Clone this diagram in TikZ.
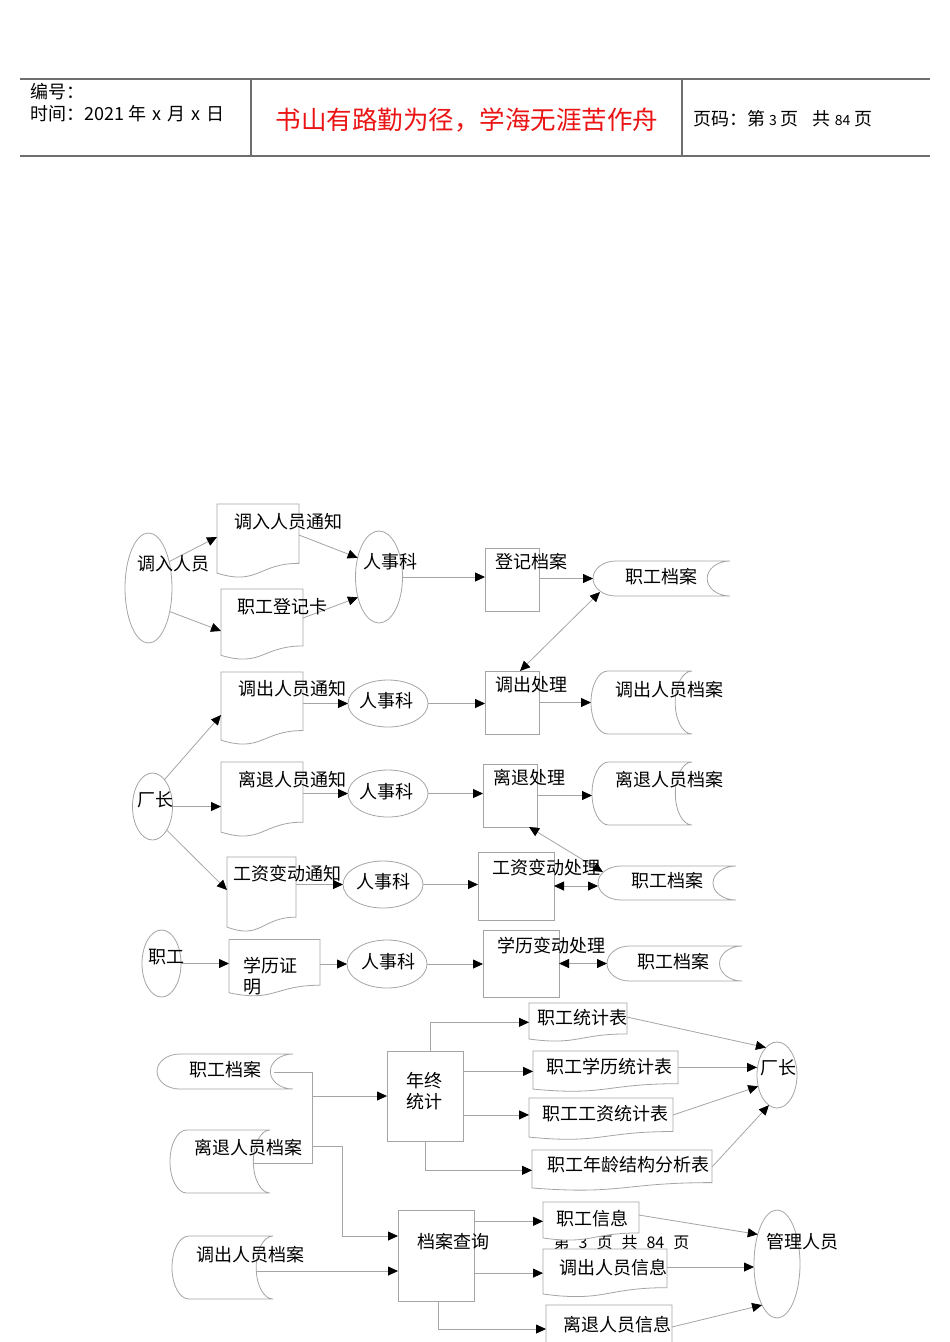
\documentclass[tikz,border=0pt]{standalone}
\usepackage{fontspec}
\setmainfont{Noto Sans CJK SC}
\usetikzlibrary{arrows.meta,shapes.geometric,calc}
\definecolor{lc}{RGB}{165,165,165}
\definecolor{hc}{RGB}{110,110,110}
\definecolor{tred}{RGB}{235,20,20}
\newcommand\dfont{\fontsize{18pt}{21pt}\selectfont}
\newcommand\docsh[1]{%
  \draw[shp] let \p1=(#1.north west), \p2=(#1.south east), \p3=(#1.north) in
  (\x1,\y1) -- (\x2,\y1) -- (\x2,{\y1+0.802*(\y2-\y1)})
  .. controls (\x3,{\y1+0.802*(\y2-\y1)}) and (\x3,{\y1+1.107*(\y2-\y1)}) .. (\x1,{\y1+0.934*(\y2-\y1)}) -- cycle;}
\newcommand\storesh[1]{%
  \draw[shp] let \p1=(#1.north west), \p2=(#1.south east), \n1={(\x2-\x1)/6}, \n2={(\y1-\y2)/2} in
  ({\x1+\n1},\y1) -- (\x2,\y1) arc[start angle=90,end angle=270,x radius=\n1,y radius=\n2]
  -- ({\x1+\n1},\y2) arc[start angle=270,end angle=90,x radius=\n1,y radius=\n2] -- cycle;}
\begin{document}
\begin{tikzpicture}[x=1pt,y=-1pt,
  shp/.style={draw=lc,line width=0.8pt,fill=white},
  ph/.style={inner sep=0pt,outer sep=0pt,rectangle},
  box/.style={draw=lc,line width=0.8pt,fill=white,inner sep=0pt,outer sep=0pt,rectangle},
  ell/.style={ellipse,draw=lc,line width=0.8pt,fill=white,inner sep=0pt,outer sep=0pt},
  txt/.style={inner sep=0pt,font=\dfont},
  htxt/.style={inner sep=0pt,font=\fontsize{18pt}{20pt}\selectfont},
  arr/.style={draw=lc,line width=0.8pt,-{Triangle[length=10pt,width=9pt,color=black]}},
  darr/.style={draw=lc,line width=0.8pt,{Triangle[length=10pt,width=9pt,color=black]}-{Triangle[length=10pt,width=9pt,color=black]}},
  ln/.style={draw=lc,line width=0.8pt}]
\useasboundingbox (0,0) rectangle (950,1342);
\fill[white] (0,0) rectangle (950,1342);
% header
\draw[hc,line width=1.3pt] (20,79) -- (930,79) (20,156) -- (930,156) (251,79) -- (251,156) (682,79) -- (682,156);
\node[htxt,anchor=west] (h1) at (30,92) {编号：};
\node[htxt,anchor=west] (h2) at (30,114) {时间：2021\hspace{4pt}年\hspace{6pt}x\hspace{6pt}月\hspace{6pt}x\hspace{6pt}日};
\node[inner sep=0pt,font=\fontsize{25.5pt}{28pt}\selectfont,text=tred] (h3) at (467,120) {书山有路勤为径，学海无涯苦作舟};
\node[htxt,anchor=west] (h4) at (693,119) {页码：第\hspace{4pt}{\fontsize{14pt}{15pt}\selectfont 3}\hspace{4pt}页\hspace{14pt}共\hspace{4pt}{\fontsize{14pt}{15pt}\selectfont 84}\hspace{4pt}页};
% footer text (partly covered)
\node[inner sep=0pt,font=\fontsize{16pt}{18pt}\selectfont] (pg) at (621.5,1242) {第\hspace{9pt}3\hspace{9pt}页\hspace{9pt}共\hspace{9pt}84\hspace{9pt}页};
% row 1
\node[ell,minimum width=47pt,minimum height=110pt] (E1) at (148.5,588) {};
\node[ph,minimum width=82pt,minimum height=74pt] (D1) at (258,541) {};
\node[ph,minimum width=82pt,minimum height=71pt] (D2) at (262,624.5) {};
\node[ell,minimum width=47pt,minimum height=92pt] (E2) at (379,577) {};
\node[box,minimum width=54pt,minimum height=63pt] (B1) at (512,579.5) {};
\node[ph,minimum width=137pt,minimum height=35pt] (S1) at (661.5,578.5) {};
% row 2
\node[ph,minimum width=82pt,minimum height=73pt] (D3) at (262,708.5) {};
\node[ell,minimum width=80pt,minimum height=47pt] (E3) at (388,703.5) {};
\node[box,minimum width=54pt,minimum height=63pt] (B2) at (512,702.5) {};
\node[ph,minimum width=101pt,minimum height=63pt] (S2) at (641.5,702.5) {};
% row 3
\node[ph,minimum width=82pt,minimum height=75pt] (D4) at (262,799.5) {};
\node[ell,minimum width=80pt,minimum height=47pt] (E4) at (388,793.5) {};
\node[box,minimum width=54pt,minimum height=63pt] (B3) at (510,795.5) {};
\node[ph,minimum width=100pt,minimum height=63pt] (S3) at (642,793.5) {};
\node[ell,minimum width=40pt,minimum height=67pt] (CZ) at (152.5,806.5) {};
% row 4
\node[ph,minimum width=69pt,minimum height=75pt] (D5) at (261.5,894.5) {};
\node[ell,minimum width=80pt,minimum height=47pt] (E5) at (383,884.5) {};
\node[box,minimum width=76pt,minimum height=68pt] (B4) at (516,886) {};
\node[ph,minimum width=138pt,minimum height=34pt] (S4) at (667,883) {};
% row 5
\node[ell,minimum width=39pt,minimum height=67pt] (E6) at (161.5,963.5) {};
\node[ph,minimum width=91pt,minimum height=57pt] (D6) at (274.5,968) {};
\node[ell,minimum width=80pt,minimum height=48pt] (E7) at (387,964) {};
\node[box,minimum width=76pt,minimum height=67pt] (B5) at (521,963.5) {};
\node[ph,minimum width=135pt,minimum height=35pt] (S5) at (674.5,963.5) {};
% row 6
\node[ph,minimum width=136pt,minimum height=35pt] (S6) at (225,1071.5) {};
\node[ph,minimum width=100pt,minimum height=63pt] (S7) at (220,1161.5) {};
\node[box,minimum width=76pt,minimum height=90pt] (B6) at (425,1096) {};
\node[ph,minimum width=98pt,minimum height=38.5pt] (T1) at (578,1022.3) {};
\node[ph,minimum width=145pt,minimum height=40.7pt] (T2) at (605.5,1071.4) {};
\node[ph,minimum width=144pt,minimum height=41.8pt] (T3) at (601,1118.9) {};
\node[ph,minimum width=180pt,minimum height=40.7pt] (T4) at (622,1170.3) {};
\node[ell,minimum width=40pt,minimum height=66pt] (E8) at (777,1075) {};
% row 7
\node[ph,minimum width=101pt,minimum height=63pt] (S8) at (222.5,1267.5) {};
\node[box,minimum width=76pt,minimum height=91pt] (B7) at (436,1255.5) {};
\node[ph,minimum width=96pt,minimum height=38.5pt] (U1) at (591,1221.3) {};
\node[ph,minimum width=124pt,minimum height=48.2pt] (U2) at (605,1273.1) {};
\node[ph,minimum width=126pt,minimum height=48pt] (U3) at (609,1329) {};
\node[ell,minimum width=46pt,minimum height=108pt] (E9) at (777,1264) {};
% custom outlines
\docsh{D1}\docsh{D2}\docsh{D3}\docsh{D4}\docsh{D5}\docsh{D6}
\docsh{T1}\docsh{T2}\docsh{T3}\docsh{T4}\docsh{U1}\docsh{U2}\docsh{U3}
\storesh{S1}\storesh{S2}\storesh{S3}\storesh{S4}\storesh{S5}\storesh{S6}\storesh{S7}\storesh{S8}
% connectors row 1
\draw[arr] (E1.52) -- ($(D1.north west)+(0,33)$);
\draw[arr] (E1.-48) -- ($(D2.north west)+(0,42)$);
\draw[arr] ($(D1.north east)+(0,31)$) -- (E2.138);
\draw[arr] ($(D2.north east)+(0,29)$) -- (E2.224);
\draw[arr] (E2.east) -- (E2.east -| B1.west);
\draw[arr] (B1.east |- S1.west) -- (S1.west);
\draw[darr] ($(S1.south west)+(7,-4)$) -- ($(B2.north)+(8,0)$);
% row 2
\draw[arr] (E3.west -| D3.east) -- (E3.west);
\draw[arr] (E3.east) -- (E3.east -| B2.west);
\draw[arr] (B2.east) -- (S2.west);
% row 3
\draw[arr] (E4.west -| D4.east) -- (E4.west);
\draw[arr] (E4.east) -- (E4.east -| B3.west);
\draw[arr] (B3.east) -- (B3.east -| S3.west);
\draw[darr] ($(B3.south)+(19,0)$) -- ($(S4.north west)+(5,6)$);
\draw[arr] (CZ.66) -- ($(D3.north west)+(0,43)$);
\draw[arr] (CZ.east) -- (CZ.east -| D4.west);
\draw[arr] (CZ.-59) -- ($(D5.north west)+(0,33)$);
% row 4
\draw[arr] (E5.west -| D5.east) -- (E5.west);
\draw[arr] (E5.east) -- (E5.east -| B4.west);
\draw[darr] (B4.east) -- (B4.east -| S4.west);
% row 5
\draw[arr] (E6.east) -- (E6.east -| D6.west);
\draw[arr] (E7.west -| D6.east) -- (E7.west);
\draw[arr] (E7.east) -- (E7.east -| B5.west);
\draw[darr] (B5.east) -- (S5.west);
% row 6
\coordinate (j1) at (312,1096);
\coordinate (j2) at (312,1146);
\coordinate (j3) at (312,1163);
\coordinate (k1) at (342,1146);
\draw[ln] ($(S6.east)+(-19,0.5)$) -| (j3) -- ($(S7.east)+(-16,1.5)$);
\draw[arr] (j1) -- (j1 -| B6.west);
\draw[arr] (j2) -- (k1) |- ($(B7.north west)+(0,26)$);
\draw[arr] ($(B6.north)+(5,0)$) |- (T1.west);
\draw[arr] (B6.east |- T2.west) -- (T2.west);
\coordinate (T3w) at ($(T3.west)+(0,-4)$);
\draw[arr] (B6.east |- T3w) -- (T3w);
\draw[arr] (B6.south) |- (T4.west);
\coordinate (T1e) at ($(T1.north east)+(0,14)$);
\coordinate (T2e) at ($(T2.east)+(0,-4)$);
\coordinate (T3e) at ($(T3.north east)+(0,17)$);
\coordinate (T4e) at ($(T4.north east)+(0,17)$);
\draw[arr] (T1e) -- (E8.112);
\draw[arr] (T2e) -- (E8.west |- T2e);
\draw[arr] (T3e) -- (E8.211);
\draw[arr] (T4e) -- (E8.255);
% row 7
\coordinate (S8i) at ($(S8.east)+(-17,3.5)$);
\draw[arr] (S8i) -- (S8i -| B7.west);
\draw[arr] (B7.east |- U1.west) -- (U1.west);
\draw[arr] (B7.east |- U2.west) -- (U2.west);
\draw[arr] ($(B7.south)+(2,0)$) |- (U3.west);
\coordinate (U1e) at ($(U1.north east)+(0,13)$);
\coordinate (U2e) at ($(U2.north east)+(0,18)$);
\coordinate (U3e) at ($(U3.north east)+(0,22)$);
\draw[arr] (U1e) -- (E9.123);
\draw[arr] (U2e) -- (U2e -| E9.west);
\draw[arr] (U3e) -- (E9.250);
% texts
\node[txt] (t1) at (173,564) {调入人员};
\node[txt] (t2) at (288,522) {调入人员通知};
\node[txt] (t3) at (282,607) {职工登记卡};
\node[txt] (t4) at (390,562) {人事科};
\node[txt] (t5) at (531,562) {登记档案};
\node[txt] (t6) at (661,577) {职工档案};
\node[txt] (t7) at (292,689) {调出人员通知};
\node[txt] (t8) at (386,701) {人事科};
\node[txt] (t9) at (531,685) {调出处理};
\node[txt] (t10) at (669,690) {调出人员档案};
\node[txt] (t11) at (292,780) {离退人员通知};
\node[txt] (t12) at (386,792) {人事科};
\node[txt] (t13) at (529,778) {离退处理};
\node[txt] (t14) at (669,780) {离退人员档案};
\node[txt] (t15) at (155,800) {厂长};
\node[txt] (t16) at (287,874) {工资变动通知};
\node[txt] (t17) at (383,882) {人事科};
\node[txt] (t18) at (546,868) {工资变动处理};
\node[txt] (t19) at (667,881) {职工档案};
\node[txt] (t20) at (166,957) {职工};
\node[txt,align=left] (t21) at (270,976) {学历证\\明};
\node[txt] (t22) at (388,962) {人事科};
\node[txt] (t23) at (551,946) {学历变动处理};
\node[txt] (t24) at (673,962) {职工档案};
\node[txt] (t25) at (225,1070) {职工档案};
\node[txt] (t26) at (248,1148) {离退人员档案};
\node[txt,align=center] (t27) at (424,1091) {年终\\统计};
\node[txt] (t28) at (582,1018) {职工统计表};
\node[txt] (t29) at (609,1067) {职工学历统计表};
\node[txt] (t30) at (605,1114) {职工工资统计表};
\node[txt] (t31) at (628,1165) {职工年龄结构分析表};
\node[txt] (t32) at (778,1068) {厂长};
\node[txt] (t33) at (250,1255) {调出人员档案};
\node[txt] (t34) at (453,1242) {档案查询};
\node[txt] (t35) at (592,1219) {职工信息};
\node[txt] (t36) at (613,1268) {调出人员信息};
\node[txt] (t37) at (617,1325) {离退人员信息};
\node[txt] (t38) at (802,1242) {管理人员};
\end{tikzpicture}
\end{document}
